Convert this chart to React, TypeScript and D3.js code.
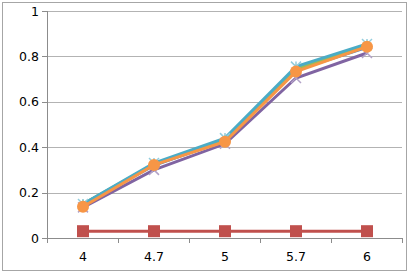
import React from "react";
import * as d3 from "d3";

const categories = ["4", "4.7", "5", "5.7", "6"];
const yTicks = [0, 0.2, 0.4, 0.6, 0.8, 1];

const seriesBlue = [0.15, 0.32, 0.43, 0.74, 0.84];
const seriesRed = [0.03, 0.03, 0.03, 0.03, 0.03];
const seriesGreen = [0.15, 0.325, 0.435, 0.745, 0.845];
const seriesPurple = [0.135, 0.3, 0.415, 0.705, 0.815];
const seriesAqua = [0.15, 0.33, 0.44, 0.755, 0.855];
const seriesOrange = [0.138, 0.322, 0.424, 0.733, 0.843];

const W = 409, H = 273;
const margin = { left: 47, right: 7, top: 11, bottom: 35 };

export default function App() {
  const x = d3.scaleBand<string>().domain(categories)
    .range([margin.left, W - margin.right]);
  const y = d3.scaleLinear().domain([0, 1])
    .range([H - margin.bottom, margin.top]);
  const cx = (c: string) => (x(c) as number) + x.bandwidth() / 2 + 0.5;
  const line = (vals: number[]) =>
    d3.line<number>().x((_, i) => cx(categories[i])).y(d => y(d))(vals) as string;

  const font = "DejaVu Sans, sans-serif";
  const bounds = categories.map(c => x(c) as number).concat([W - margin.right]);

  const star = (px: number, py: number, s: number, col: string, k: string) => (
    <g key={k} stroke={col} strokeWidth={1.5}>
      <line x1={px - s} y1={py - s} x2={px + s} y2={py + s} />
      <line x1={px - s} y1={py + s} x2={px + s} y2={py - s} />
      <line x1={px} y1={py - s} x2={px} y2={py + s} />
    </g>
  );

  return (
    <svg width={W} height={H} style={{ position: "absolute", left: 0, top: 0 }}>
      <rect x={2.5} y={2.5} width={W - 5} height={H - 5} fill="white" stroke="#a6a6a6" />
      {yTicks.map(t => (
        <g key={t}>
          {t > 0 && <line x1={margin.left} x2={W - margin.right} y1={Math.round(y(t)) + 0.5} y2={Math.round(y(t)) + 0.5} stroke="#b3b3b3" />}
          <line x1={margin.left - 5} x2={margin.left} y1={Math.round(y(t)) + 0.5} y2={Math.round(y(t)) + 0.5} stroke="#8c8c8c" />
          <text x={margin.left - 8} y={y(t) + 4.5} textAnchor="end" fontFamily={font} fontSize={12.5} fill="#000">{t}</text>
        </g>
      ))}
      <line x1={margin.left + 0.5} x2={margin.left + 0.5} y1={margin.top} y2={y(0)} stroke="#8c8c8c" />
      <line x1={margin.left} x2={W - margin.right} y1={Math.round(y(0)) + 0.5} y2={Math.round(y(0)) + 0.5} stroke="#8c8c8c" />
      {bounds.map((b, i) => (
        <line key={i} x1={Math.round(b) + 0.5} x2={Math.round(b) + 0.5} y1={y(0)} y2={y(0) + 5} stroke="#8c8c8c" />
      ))}
      {categories.map(c => (
        <text key={c} x={cx(c)} y={H - 12} textAnchor="middle" fontFamily={font} fontSize={12.5} fill="#000">{c}</text>
      ))}

      <path d={line(seriesRed)} fill="none" stroke="#c0504d" strokeWidth={3} />
      {seriesRed.map((v, i) => (
        <rect key={i} x={cx(categories[i]) - 6} y={y(v) - 6} width={12} height={12} fill="#c0504d" />
      ))}

      <path d={line(seriesBlue)} fill="none" stroke="#4f81bd" strokeWidth={3} />
      <path d={line(seriesGreen)} fill="none" stroke="#9bbb59" strokeWidth={3} />
      {seriesGreen.map((v, i) => {
        const px = cx(categories[i]), py = y(v);
        return <path key={i} d={`M${px},${py - 5}L${px + 5},${py + 4}L${px - 5},${py + 4}Z`} fill="#9bbb59" />;
      })}
      <path d={line(seriesPurple)} fill="none" stroke="#8064a2" strokeWidth={3} />
      {seriesPurple.map((v, i) => {
        const px = cx(categories[i]), py = y(v);
        return (
          <g key={i} stroke="#b2a2c7" strokeWidth={1.5}>
            <line x1={px - 5} y1={py - 5} x2={px + 5} y2={py + 5} />
            <line x1={px - 5} y1={py + 5} x2={px + 5} y2={py - 5} />
          </g>
        );
      })}
      <path d={line(seriesAqua)} fill="none" stroke="#4bacc6" strokeWidth={3} />
      {seriesAqua.map((v, i) => star(cx(categories[i]), y(v), 5, "#93cddd", "s" + i))}
      <path d={line(seriesOrange)} fill="none" stroke="#f79646" strokeWidth={3} />
      {seriesOrange.map((v, i) => (
        <circle key={i} cx={cx(categories[i])} cy={y(v)} r={6} fill="#f79646" />
      ))}
    </svg>
  );
}
